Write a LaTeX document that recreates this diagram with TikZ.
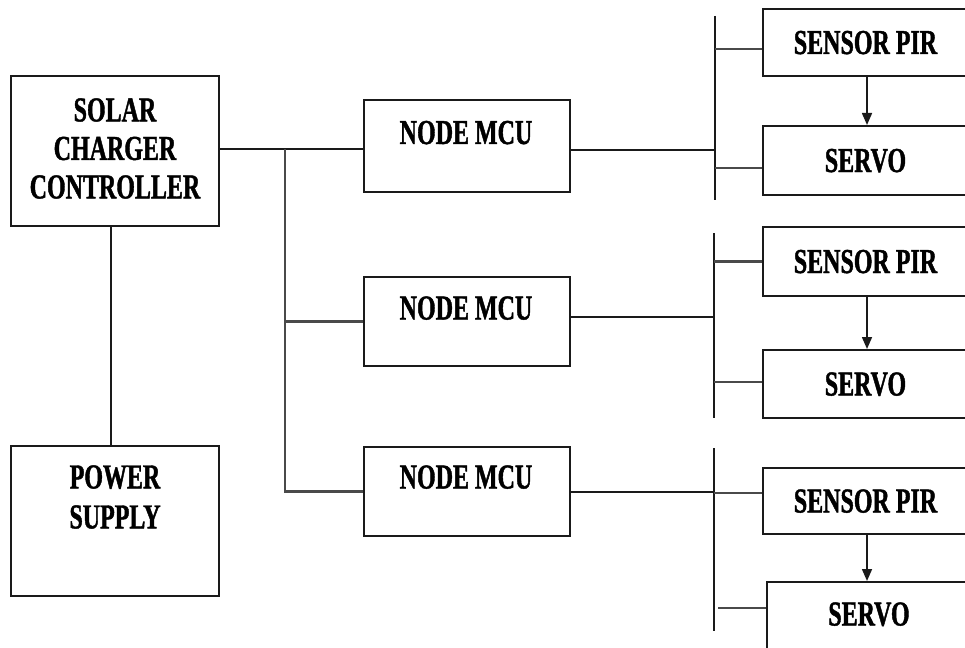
\documentclass[tikz,border=0pt]{standalone}
\usepackage{fontspec}
\setmainfont[FakeStretch=0.685,BoldFeatures={FakeBold=1.2}]{Liberation Serif}
\usetikzlibrary{arrows.meta}
\definecolor{ink}{HTML}{1A1A1A}
\definecolor{wire}{HTML}{4A4A4A}
\begin{document}
\begin{tikzpicture}[x=1pt,y=-1pt,
  box/.style 2 args={draw=ink,line width=2pt,rectangle,inner sep=0pt,
    minimum width=#1,minimum height=#2},
  lbl/.style={font=\bfseries\fontsize{35}{38.5}\selectfont,inner sep=0pt,
    text height=23pt,text depth=0pt,text=black},
  mtxt/.style={font=\bfseries\fontsize{35}{#1}\selectfont,align=center,
    inner sep=0pt,text=black},
  link/.style={draw=ink,line width=2pt},
  stub/.style={draw=wire,line width=2.2pt},
  flow/.style={draw=ink,line width=1.6pt,-{Triangle[width=10pt,length=12pt]}}]
\useasboundingbox (0,0) rectangle (965,647);
\clip (0,0) rectangle (965,647);
% left column
\node[box={208}{150}] (solar) at (115,151) {};
\node[mtxt=38.5] (solart) at (115,148.5) {SOLAR\\CHARGER\\CONTROLLER};
\node[box={208}{150}] (power) at (115,521) {};
\node[mtxt=40] (powert) at (115,497) {POWER\\SUPPLY};
% NodeMCU column
\node[box={206}{92}] (mcu1) at (467,146) {};
\node[lbl] (mcu1t) at (466,132.5) {NODE MCU};
\node[box={206}{89}] (mcu2) at (467,321.5) {};
\node[lbl] (mcu2t) at (466,308) {NODE MCU};
\node[box={206}{89}] (mcu3) at (467,491.5) {};
\node[lbl] (mcu3t) at (466,477) {NODE MCU};
% right column
\node[box={205}{67},lbl] (pir1) at (865.5,42.5) {SENSOR PIR};
\node[box={205}{69},lbl] (srv1) at (865.5,160.5) {SERVO};
\node[box={205}{69},lbl] (pir2) at (865.5,261.5) {SENSOR PIR};
\node[box={205}{68},lbl] (srv2) at (865.5,384) {SERVO};
\node[box={205}{66},lbl] (pir3) at (865.5,501) {SENSOR PIR};
\node[box={201}{74}] (srv3) at (867.5,619) {};
\node[lbl] (srv3t) at (869,614) {SERVO};
% junction coordinates
\coordinate (j1) at (285,149);
\coordinate (b1t) at (715,16);
\coordinate (b1b) at (715,200);
\coordinate (b2t) at (714,233);
\coordinate (b2b) at (714,418);
\coordinate (b3t) at (714,448);
\coordinate (b3b) at (714,631);
% power link and trunk
\draw[link] ([xshift=-4pt]solar.south) -- ([xshift=-4pt]power.north);
\draw[link] (solar.east |- j1) -- (mcu1.west |- j1);
\draw[stub] (j1) |- (mcu3.west);
\draw[stub] (j1 |- mcu2.west) -- (mcu2.west);
% buses
\draw[link] (b1t) -- (b1b);
\draw[link] (b2t) -- (b2b);
\draw[link] (b3t) -- (b3b);
\draw[link] ([yshift=-4pt]mcu1.east) -- ([yshift=-4pt]mcu1.east -| b1t);
\draw[link] ([yshift=4.5pt]mcu2.east) -- ([yshift=4.5pt]mcu2.east -| b2t);
\draw[link] (mcu3.east) -- (mcu3.east -| b3t);
% stubs
\draw[stub] ([yshift=-6.5pt]pir1.west -| b1t) -- ([yshift=-6.5pt]pir1.west);
\draw[stub] ([yshift=-7.5pt]srv1.west -| b1t) -- ([yshift=-7.5pt]srv1.west);
\draw[stub] (pir2.west -| b2t) -- (pir2.west);
\draw[stub] ([yshift=2pt]srv2.west -| b2t) -- ([yshift=2pt]srv2.west);
\draw[stub] ([yshift=8pt]pir3.west -| b3t) -- ([yshift=8pt]pir3.west);
\draw[stub] ([yshift=11pt,xshift=4pt]srv3.west -| b3t) -- ([yshift=11pt]srv3.west);
% arrows
\draw[flow] ([xshift=1.5pt]pir1.south) -- ([xshift=1.5pt]pir1.south |- srv1.north);
\draw[flow] ([xshift=1.5pt]pir2.south) -- ([xshift=1.5pt]pir2.south |- srv2.north);
\draw[flow] ([xshift=1.5pt]pir3.south) -- ([xshift=1.5pt]pir3.south |- srv3.north);
\end{tikzpicture}
\end{document}
